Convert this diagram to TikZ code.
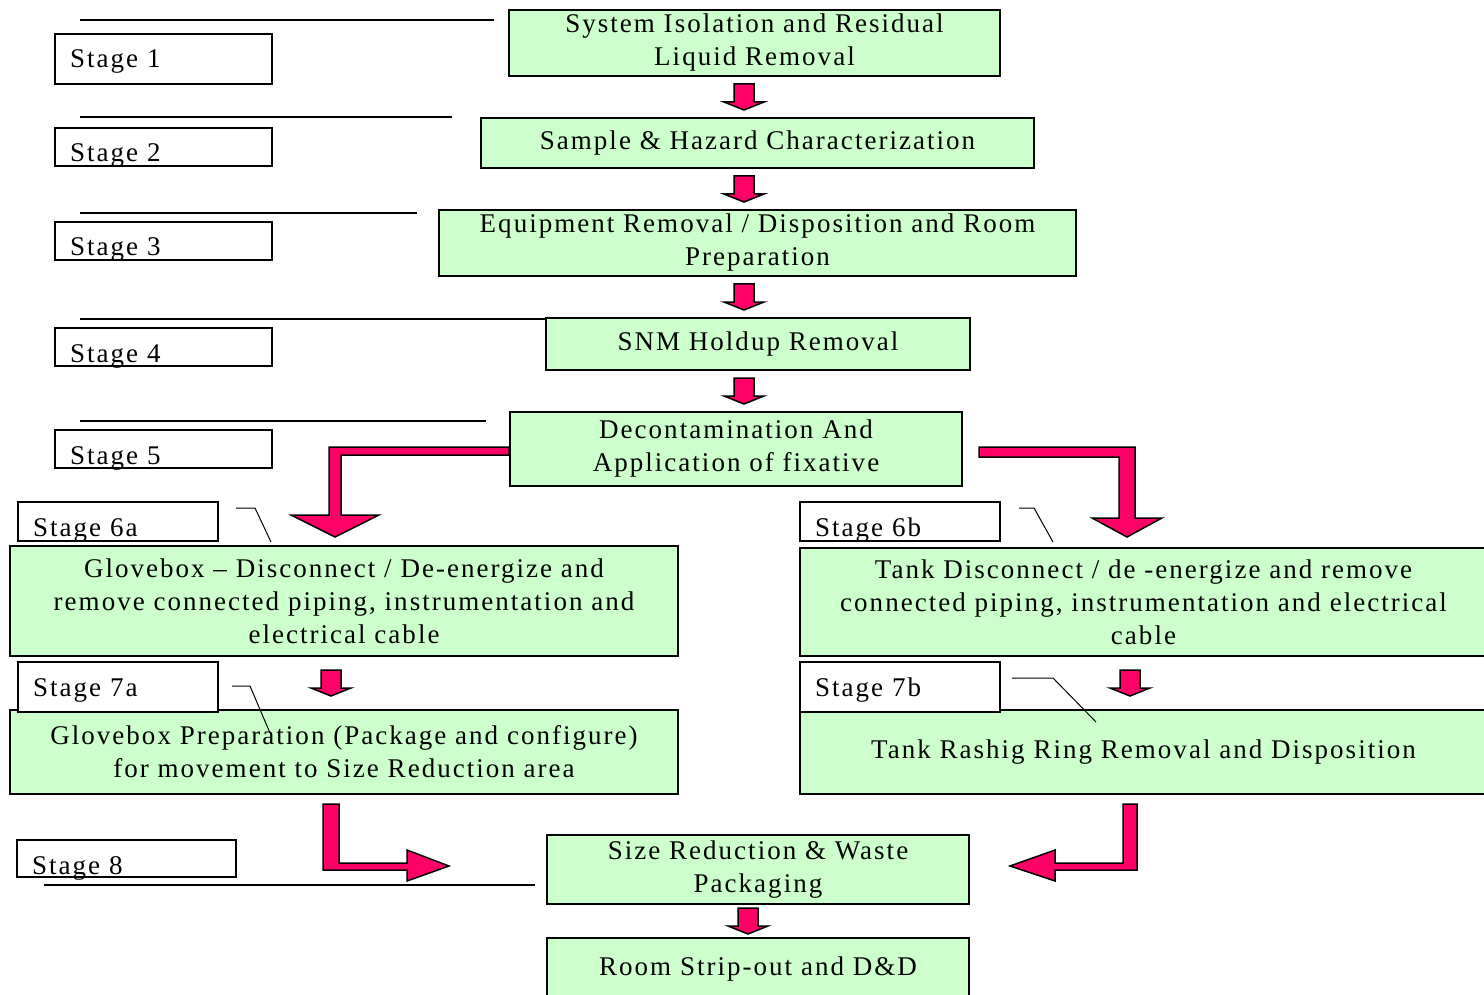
\documentclass[tikz,border=0pt]{standalone}
\usepackage{fontspec}
\setmainfont{Liberation Serif}[LetterSpace=7.5]
\usetikzlibrary{calc}
\definecolor{boxgreen}{HTML}{CCFFCC}
\definecolor{arrowpink}{HTML}{FF0066}
\tikzset{
  mainbox/.style={draw, line width=2pt, fill=boxgreen, align=center, inner sep=0pt,
    anchor=north west, font=\fontsize{27pt}{33pt}\selectfont},
  stagebox/.style={draw, line width=2pt, fill=white, align=left, inner xsep=15pt,
    inner ysep=0pt, text height=34pt, anchor=north west, font=\fontsize{27pt}{33pt}\selectfont},
  flowarrow/.style={draw=black, fill=arrowpink, line width=1.5pt, line join=miter},
  stageline/.style={line width=1.5pt},
  callout/.style={line width=1pt}
}
% short block arrow in the gap between two boxes
\newcommand{\flowstep}[3]{%
  \path ($(#1.south -| #3,0)!0.5!(#2.north -| #3,0)$) coordinate (mid);
  \filldraw[flowarrow] ($(mid)+(-10,-13)$) -- ($(mid)+(10,-13)$) -- ($(mid)+(10,5)$)
    -- ($(mid)+(20,5)$) -- ($(mid)+(0,13)$) -- ($(mid)+(-20,5)$) -- ($(mid)+(-10,5)$) -- cycle;}
\begin{document}
\begin{tikzpicture}[x=1pt, y=-1pt]
    \useasboundingbox (0,0) rectangle (1484,995);
    \clip (0,0) rectangle (1484,995);
    % stage rules
    \draw[stageline] (80,20) -- (494,20);
    \draw[stageline] (80,117) -- (452,117);
    \draw[stageline] (80,213) -- (417,213);
    \draw[stageline] (80,319) -- (545,319);
    \draw[stageline] (80,421) -- (486,421);
    \draw[stageline] (44,885) -- (535,885);
    % process boxes
    \node[mainbox, minimum width=491pt, minimum height=66pt] (isolate) at (508,9) {System Isolation and Residual\\Liquid Removal};
    \node[mainbox, minimum width=553pt, minimum height=50pt] (hazard) at (480,117) {Sample \& Hazard Characterization};
    \node[mainbox, minimum width=637pt, minimum height=66pt] (equip) at (438,209) {Equipment Removal / Disposition and Room\\Preparation};
    \node[mainbox, minimum width=424pt, minimum height=52pt] (holdup) at (545,317) {SNM Holdup Removal};
    \node[mainbox, minimum width=452pt, minimum height=74pt] (decon) at (509,411) {Decontamination And\\Application of fixative};
    \node[mainbox, minimum width=668pt, minimum height=110pt] (gbdisc) at (9,545) {Glovebox -- Disconnect / De-energize and\\remove connected piping, instrumentation and\\electrical cable};
    \node[mainbox, minimum width=687pt, minimum height=108pt] (tankdisc) at (799,547) {Tank Disconnect / de -energize and remove\\connected piping, instrumentation and electrical\\cable};
    \node[mainbox, minimum width=668pt, minimum height=84pt] (gbprep) at (9,709) {Glovebox Preparation (Package and configure)\\for movement to Size Reduction area};
    \node[mainbox, minimum width=687pt, minimum height=84pt] (rashig) at (799,709) {Tank Rashig Ring Removal and Disposition};
    \node[mainbox, minimum width=422pt, minimum height=69pt] (sizered) at (546,834) {Size Reduction \& Waste\\Packaging};
    \node[mainbox, minimum width=422pt, minimum height=63pt] (strip) at (546,937) {Room Strip-out and D\&D};
    % straight arrows
    \flowstep{isolate}{hazard}{744}
    \flowstep{hazard}{equip}{744}
    \flowstep{equip}{holdup}{744}
    \flowstep{holdup}{decon}{744}
    \flowstep{gbdisc}{gbprep}{331}
    \flowstep{tankdisc}{rashig}{1130}
    \flowstep{sizered}{strip}{748}
    % bent arrows
    \filldraw[flowarrow] (decon.west |- 0,447) -- (329,447) -- (329,515) -- (291,515) -- (335,537)
        -- (379,515) -- (341,515) -- (341,455) -- (decon.west |- 0,455) -- cycle;
    \filldraw[flowarrow] (979,447) -- (1135,447) -- (1135,518) -- (1162,518) -- (1127,537)
        -- (1092,518) -- (1119,518) -- (1119,457) -- (979,457) -- cycle;
    \filldraw[flowarrow] (323,804) -- (339,804) -- (339,863) -- (407,863) -- (407,850) -- (449,866)
        -- (407,881) -- (407,870) -- (323,870) -- cycle;
    \filldraw[flowarrow] (1123,804) -- (1137,804) -- (1137,870) -- (1055,870) -- (1055,881) -- (1010,866)
        -- (1055,850) -- (1055,863) -- (1123,863) -- cycle;
    % stage labels
    \node[stagebox, text width=187pt, text depth=16pt] (st1) at (54,33) {Stage 1};
    \node[stagebox, text width=187pt, text depth=4pt] (st2) at (54,127) {Stage 2};
    \node[stagebox, text width=187pt, text depth=4pt] (st3) at (54,221) {Stage 3};
    \node[stagebox, text width=187pt, text depth=4pt] (st4) at (54,327) {Stage 4};
    \node[stagebox, text width=187pt, text depth=4pt] (st5) at (54,429) {Stage 5};
    \node[stagebox, text width=170pt, text depth=5pt] (st6a) at (17,501) {Stage 6a};
    \node[stagebox, text width=170pt, text depth=5pt] (st6b) at (799,501) {Stage 6b};
    \node[stagebox, text width=170pt, text depth=16pt] (st7a) at (17,661) {Stage 7a};
    \node[stagebox, text width=170pt, text depth=16pt] (st7b) at (799,661) {Stage 7b};
    \node[stagebox, text width=189pt, text depth=3pt] (st8) at (16,839) {Stage 8};
    % callouts
    \draw[callout] (st6a.east |- 0,508) ++(17,0) -- (255,508) -- (271,542);
    \draw[callout] (st6b.east |- 0,508) ++(18,0) -- (1034,508) -- (1053,542);
    \draw[callout] (st7a.east |- 0,686) ++(13,0) -- (250,686) -- (270,733);
    \draw[callout] (st7b.east |- 0,678) ++(11,0) -- (1053,678) -- (1096,722);
\end{tikzpicture}
\end{document}
